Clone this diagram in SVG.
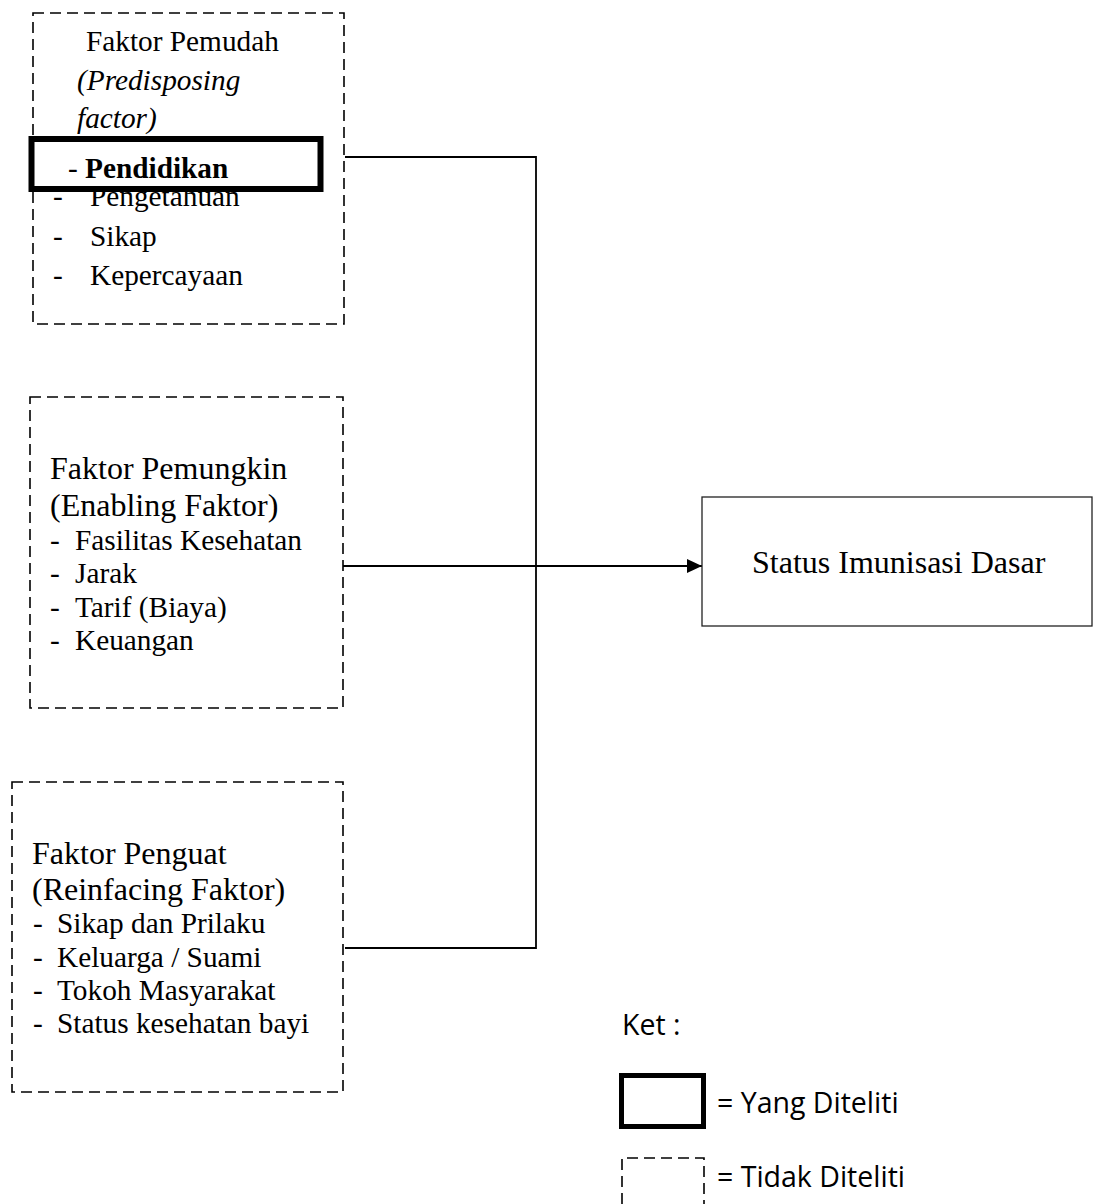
<svg xmlns="http://www.w3.org/2000/svg" width="1093" height="1204" viewBox="0 0 1093 1204">
<style>
.dash{fill:none;stroke:#000;stroke-width:1.6;stroke-dasharray:11 6}
.t{font-family:"Liberation Serif","Times New Roman",serif;fill:#000}
.s29{font-size:29.3px}
.s32{font-size:32px}
.leg{font-family:"Open Sans","Liberation Sans",sans-serif;font-size:28.5px;fill:#000}
.conn{fill:none;stroke:#000;stroke-width:1.8}
</style>
<defs>
<marker id="arr" markerWidth="16" markerHeight="14" refX="15" refY="7" orient="auto" markerUnits="userSpaceOnUse">
<path d="M0,0 L15,7 L0,14 Z" fill="#000"/>
</marker>
</defs>
<rect width="1093" height="1204" fill="#fff"/>
<g id="connectors">
<path class="conn" d="M345,157 H536 V948 H345"/>
<path class="conn" d="M343,566 H702" marker-end="url(#arr)"/>
</g>
<g id="node-predisposing">
<rect class="dash" x="33" y="13" width="311" height="311"/>
<text class="t s29" x="86" y="51">Faktor Pemudah</text>
<text class="t s29" x="77" y="90" font-style="italic">(Predisposing</text>
<text class="t s29" x="77" y="128" font-style="italic">factor)</text>
<text class="t s29" x="53" y="206">-</text>
<text class="t s29" x="90" y="206">Pengetahuan</text>
<text class="t s29" x="53" y="246">-</text>
<text class="t s29" x="90" y="246">Sikap</text>
<text class="t s29" x="53" y="285">-</text>
<text class="t s29" x="90" y="285">Kepercayaan</text>
</g>
<g id="node-pendidikan">
<rect x="31.5" y="139" width="289" height="50" fill="#fff" stroke="#000" stroke-width="6"/>
<text class="t s29" x="68" y="178">-</text>
<text class="t s29" x="85" y="178" font-weight="bold">Pendidikan</text>
</g>
<g id="node-enabling">
<rect class="dash" x="30" y="397" width="313" height="311"/>
<text class="t s32" x="50" y="479">Faktor Pemungkin</text>
<text class="t s32" x="50" y="516">(Enabling Faktor)</text>
<text class="t s29" x="50" y="550">-</text>
<text class="t s29" x="75" y="550">Fasilitas Kesehatan</text>
<text class="t s29" x="50" y="583">-</text>
<text class="t s29" x="75" y="583">Jarak</text>
<text class="t s29" x="50" y="617">-</text>
<text class="t s29" x="75" y="617">Tarif (Biaya)</text>
<text class="t s29" x="50" y="650">-</text>
<text class="t s29" x="75" y="650">Keuangan</text>
</g>
<g id="node-reinforcing">
<rect class="dash" x="12" y="782" width="331" height="310"/>
<text class="t s32" x="32" y="864">Faktor Penguat</text>
<text class="t s32" x="32" y="900">(Reinfacing Faktor)</text>
<text class="t s29" x="33" y="933">-</text>
<text class="t s29" x="57" y="933">Sikap dan Prilaku</text>
<text class="t s29" x="33" y="967">-</text>
<text class="t s29" x="57" y="967">Keluarga / Suami</text>
<text class="t s29" x="33" y="1000">-</text>
<text class="t s29" x="57" y="1000">Tokoh Masyarakat</text>
<text class="t s29" x="33" y="1033">-</text>
<text class="t s29" x="57" y="1033">Status kesehatan bayi</text>
</g>
<g id="node-status">
<rect x="702" y="497" width="390" height="129" fill="#fff" stroke="#222" stroke-width="1.3"/>
<text class="t s32" x="752" y="573">Status Imunisasi Dasar</text>
</g>
<g id="legend">
<text class="leg" x="622" y="1035">Ket :</text>
<rect x="621.5" y="1075.5" width="82" height="51" fill="none" stroke="#000" stroke-width="5"/>
<text class="leg" x="717" y="1113">= Yang Diteliti</text>
<path class="dash" d="M622,1204 V1158 H704 V1204" stroke-width="1.4" stroke-dasharray="9 6"/>
<text class="leg" x="717" y="1187">= Tidak Diteliti</text>
</g>
</svg>
